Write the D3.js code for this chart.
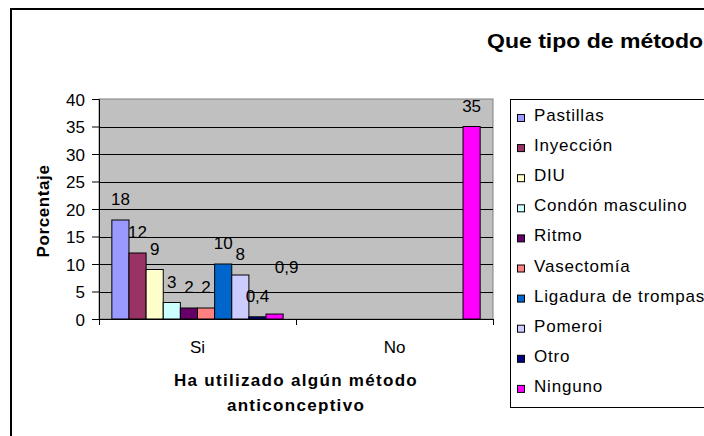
<!DOCTYPE html>
<html>
<head>
<meta charset="utf-8">
<script src="https://cdn.jsdelivr.net/npm/d3@7"></script>
<style>
  body { margin: 0; background: #fff; }
  svg { display: block; font-family: "Liberation Sans", Arial, sans-serif; }
</style>
</head>
<body>
<script>
// data
var groups = ['Si', 'No']
var methods = ['Pastillas', 'Inyección', 'DIU', 'Condón masculino', 'Ritmo',
  'Vasectomía', 'Ligadura de trompas', 'Pomeroi', 'Otro', 'Ninguno']
var siValues = [18, 12, 9, 3, 2, 2, 10, 8, 0.4, 0.9]
var noValues = [0, 0, 0, 0, 0, 0, 0, 0, 0, 35]
var colors = ['#9999ff', '#993366', '#ffffcc', '#ccffff', '#660066',
  '#ff8080', '#0066cc', '#ccccff', '#000080', '#ff00ff']
var yTicks = [0, 5, 10, 15, 20, 25, 30, 35, 40]
var title = 'Que tipo de método'
var yTitle = 'Porcentaje'
var xTitle = ['Ha utilizado algún método', 'anticonceptivo']

var W = 704, H = 436
var plot = {left: 99, top: 99, right: 493, bottom: 319}

var svg = d3.select('body')
  .append('svg')
  .attr('width', W)
  .attr('height', H)

// chart frame (cropped on the right and bottom)
svg.append('rect')
  .attr('x', 11)
  .attr('y', 9)
  .attr('width', 760)
  .attr('height', 500)
  .style('fill', '#fff')
  .style('stroke', '#000')
  .style('stroke-width', '2px')

svg.append('text')
  .attr('x', 487)
  .attr('y', 48)
  .attr('textLength', 216)
  .attr('lengthAdjust', 'spacingAndGlyphs')
  .style('font-size', '20px')
  .style('font-weight', 'bold')
  .text(title)

var y = d3.scaleLinear()
  .domain([0, 40])
  .range([plot.bottom, plot.top])

var x0 = d3.scaleBand()
  .domain(groups)
  .range([plot.left, plot.right])

var x1 = d3.scaleBand()
  .domain(methods)
  .range([0, x0.bandwidth()])
  .paddingInner(0)
  .paddingOuter(0.75)

var color = d3.scaleOrdinal().domain(methods).range(colors)

svg.append('rect')
  .attr('x', plot.left)
  .attr('y', plot.top)
  .attr('width', plot.right - plot.left)
  .attr('height', plot.bottom - plot.top)
  .style('fill', '#c0c0c0')
  .style('stroke', '#808080')
  .style('stroke-width', '1px')

svg.append('g')
  .selectAll('line')
  .data(yTicks.filter(function(t) { return t > 0 && t < 40 }))
  .enter()
  .append('line')
  .attr('x1', plot.left)
  .attr('x2', plot.right)
  .attr('y1', function(d) { return Math.round(y(d)) + 0.5 })
  .attr('y2', function(d) { return Math.round(y(d)) + 0.5 })
  .style('stroke', '#000')
  .style('stroke-width', '1px')

var rows = groups.map(function(g, gi) {
  var vals = gi === 0 ? siValues : noValues
  return methods.map(function(m, i) { return {group: g, key: m, value: vals[i]} })
})

var fmt = function(v) { return String(v).replace('.', ',') }

var groupSel = svg.append('g')
  .selectAll('g')
  .data(rows)
  .enter()
  .append('g')
  .attr('transform', function(d) { return 'translate(' + x0(d[0].group) + ',0)' })

groupSel.selectAll('rect')
  .data(function(d) { return d.filter(function(e) { return e.value > 0 }) })
  .enter()
  .append('rect')
  .attr('x', function(d) { return x1(d.key) })
  .attr('y', function(d) { return y(d.value) })
  .attr('width', x1.bandwidth())
  .attr('height', function(d) { return y(0) - y(d.value) })
  .style('fill', function(d) { return color(d.key) })
  .style('stroke', '#000')
  .style('stroke-width', '1px')

groupSel.selectAll('text')
  .data(function(d) { return d.filter(function(e) { return e.value > 0 }) })
  .enter()
  .append('text')
  .attr('x', function(d) {
    var dx = (d.group === 'Si' && d.key === 'Ninguno') ? 12 : 0
    return x1(d.key) + x1.bandwidth() / 2 + dx
  })
  .attr('y', function(d) {
    var dy = (d.group === 'Si' && d.key === 'Ninguno') ? -26 : 0
    return y(d.value) - 15 + dy
  })
  .attr('text-anchor', 'middle')
  .style('font-size', '17px')
  .text(function(d) { return fmt(d.value) })

// y axis
var yAxis = svg.append('g')
  .attr('transform', 'translate(' + plot.left + ',0)')
  .call(d3.axisLeft(y).tickValues(yTicks).tickSize(7).tickPadding(7))
yAxis.select('.domain').attr('stroke', '#000')
yAxis.selectAll('text')
  .style('font-size', '17px')
  .style('font-family', '"Liberation Sans", Arial, sans-serif')
  .attr('fill', '#000')
  .attr('dy', '0.38em')

// x axis
var xAxis = svg.append('g')
  .attr('transform', 'translate(0,' + plot.bottom + ')')
  .call(d3.axisBottom(x0).tickSize(0).tickPadding(22))
xAxis.select('.domain').attr('stroke', '#000')
xAxis.selectAll('text')
  .style('font-size', '17px')
  .style('font-family', '"Liberation Sans", Arial, sans-serif')
  .attr('fill', '#000')
  .attr('dy', '0.71em')
  .attr('y', 22)

xAxis.selectAll('line.bound')
  .data(groups.map(function(g) { return x0(g) }).concat([x0.range()[1]]))
  .enter()
  .append('line')
  .attr('class', 'bound')
  .attr('x1', function(d) { return Math.round(d) + 0.5 })
  .attr('x2', function(d) { return Math.round(d) + 0.5 })
  .attr('y1', 0)
  .attr('y2', 6)
  .style('stroke', '#000')

svg.append('text')
  .attr('transform', 'translate(49,211) rotate(-90)')
  .attr('text-anchor', 'middle')
  .style('font-size', '17px')
  .style('font-weight', 'bold')
  .style('letter-spacing', '0.6px')
  .text(yTitle)

svg.append('g')
  .selectAll('text')
  .data(xTitle)
  .enter()
  .append('text')
  .attr('x', (plot.left + plot.right) / 2)
  .attr('y', function(d, i) { return 386 + i * 25 })
  .attr('text-anchor', 'middle')
  .style('font-size', '17px')
  .style('font-weight', 'bold')
  .style('letter-spacing', '1.3px')
  .text(function(d) { return d })

// legend
var legend = svg.append('g')
  .attr('transform', 'translate(510,99)')

legend.append('rect')
  .attr('x', 0.5)
  .attr('y', 0.5)
  .attr('width', 300)
  .attr('height', 308)
  .style('fill', '#fff')
  .style('stroke', '#000')
  .style('stroke-width', '1px')

var item = legend.selectAll('g.item')
  .data(methods)
  .enter()
  .append('g')
  .attr('class', 'item')
  .attr('transform', function(d, i) { return 'translate(0,' + (i * 30.1) + ')' })

item.append('rect')
  .attr('x', 7.5)
  .attr('y', 15.5)
  .attr('width', 7)
  .attr('height', 7)
  .style('fill', function(d) { return color(d) })
  .style('stroke', '#000')
  .style('stroke-width', '1px')

item.append('text')
  .attr('x', 24)
  .attr('y', 22)
  .style('font-size', '17px')
  .style('letter-spacing', '0.8px')
  .text(function(d) { return d })
</script>
</body>
</html>
